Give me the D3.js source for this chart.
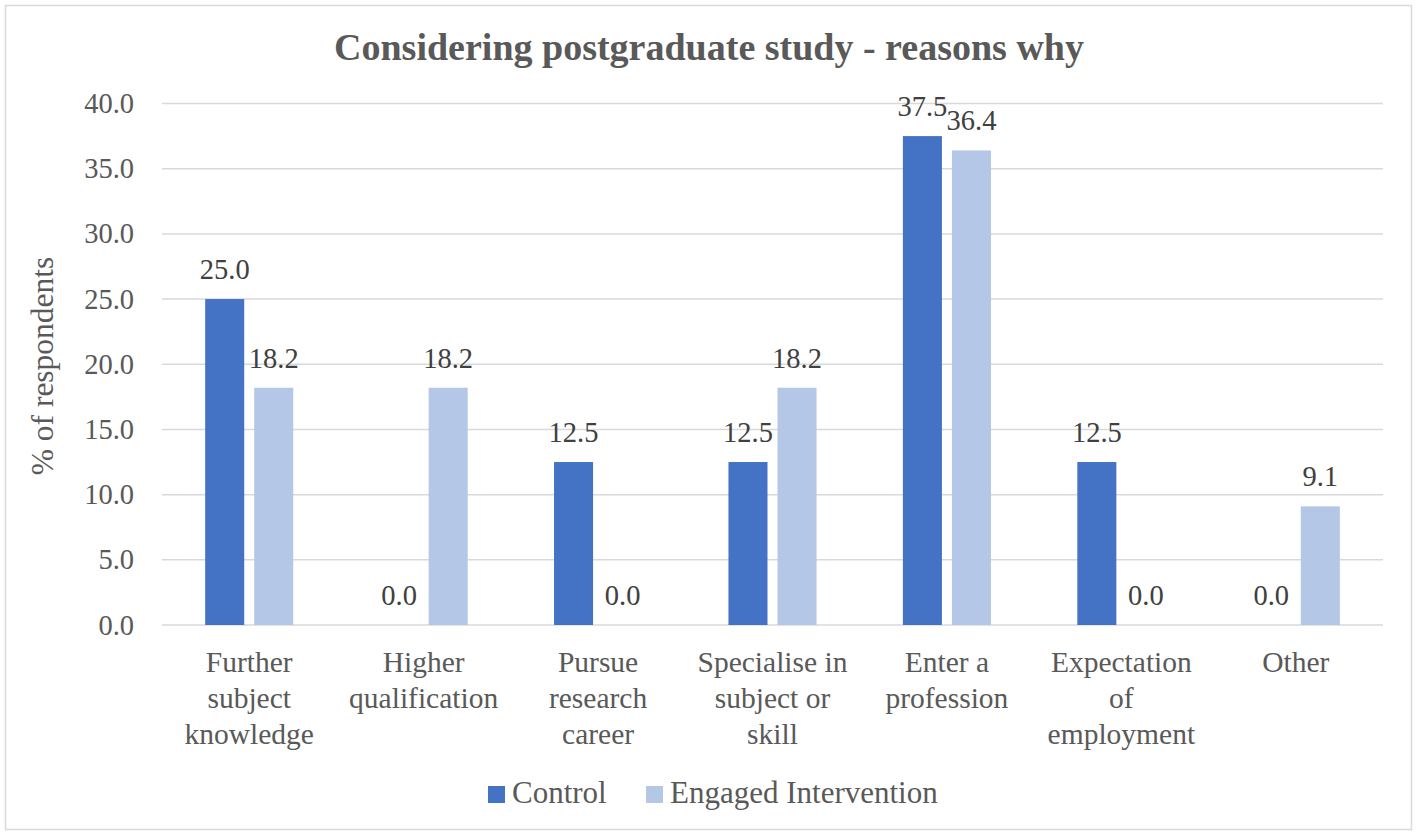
<!DOCTYPE html>
<html><head><meta charset="utf-8">
<script src="https://cdn.jsdelivr.net/npm/d3@7"></script>
<style>
body{margin:0;background:#fff}
svg{display:block}
text{font-family:"Liberation Serif","Times New Roman",serif}
</style>
</head><body>
<svg id="chart" width="1417" height="834"></svg>
<script>
const title = "Considering postgraduate study - reasons why";
const yAxisTitle = "% of respondents";
const categories = ["Further subject knowledge","Higher qualification","Pursue research career","Specialise in subject or skill","Enter a profession","Expectation of employment","Other"];
const categoryLines = [["Further","subject","knowledge"],["Higher","qualification"],["Pursue","research","career"],["Specialise in","subject or","skill"],["Enter a","profession"],["Expectation","of","employment"],["Other"]];
const seriesNames = ["Control","Engaged Intervention"];
const controlValues = [25.0,0.0,12.5,12.5,37.5,12.5,0.0];
const engagedValues = [18.2,18.2,0.0,18.2,36.4,0.0,9.1];
const yTickValues = [0,5,10,15,20,25,30,35,40];
const seriesColors = ["#4472C4","#B4C7E7"];

const svg = d3.select("#chart");
const W = 1417, H = 834;
const plot = {left:162, right:1383, top:103.5, bottom:625};

// chart border
svg.append("rect").attr("x",5.5).attr("y",5.5).attr("width",W-11).attr("height",H-10)
  .attr("fill","#fff").attr("stroke","#D9D9D9").attr("stroke-width",1.5);

const x0 = d3.scaleBand().domain(categories).range([plot.left,plot.right]).padding(0);
const groupW = x0.bandwidth()*0.505;
const x1 = d3.scaleBand().domain(seriesNames).range([-groupW/2,groupW/2]).paddingInner(0.204).paddingOuter(0);
const y = d3.scaleLinear().domain([0,40]).range([plot.bottom,plot.top]);

// gridlines
svg.append("g").selectAll("line").data(yTickValues).join("line")
  .attr("x1",plot.left).attr("x2",plot.right)
  .attr("y1",d=>y(d)).attr("y2",d=>y(d))
  .attr("stroke","#D9D9D9").attr("stroke-width",1.5);

// y tick labels
svg.append("g").selectAll("text").data(yTickValues).join("text")
  .attr("x",134).attr("y",d=>y(d)+9.5)
  .attr("text-anchor","end").attr("font-size",28.5).attr("fill","#595959")
  .text(d=>d3.format(".1f")(d));

// bars
const data = categories.map((c,i)=>({cat:c, vals:[
  {s:seriesNames[0], v:controlValues[i], color:seriesColors[0]},
  {s:seriesNames[1], v:engagedValues[i], color:seriesColors[1]}]}));

const groups = svg.append("g").selectAll("g").data(data).join("g")
  .attr("transform",d=>`translate(${x0(d.cat)+x0.bandwidth()/2},0)`);
groups.selectAll("rect").data(d=>d.vals).join("rect")
  .attr("x",d=>x1(d.s)).attr("width",x1.bandwidth())
  .attr("y",d=>y(d.v)).attr("height",d=>y(0)-y(d.v))
  .attr("fill",d=>d.color);
groups.selectAll("text").data(d=>d.vals).join("text")
  .attr("x",d=>x1(d.s)+x1.bandwidth()/2).attr("y",d=>y(d.v)-20)
  .attr("text-anchor","middle").attr("font-size",28.5).attr("fill","#404040")
  .text(d=>d3.format(".1f")(d.v));

// category labels
const catG = svg.append("g").selectAll("text").data(categories).join("text")
  .attr("text-anchor","middle").attr("font-size",29.5).attr("fill","#595959");
catG.each(function(c,i){
  const t = d3.select(this);
  categoryLines[i].forEach((ln,j)=>{
    t.append("tspan").attr("x",x0(c)+x0.bandwidth()/2).attr("y",672+36*j).text(ln);
  });
});

// y axis title
svg.append("text").attr("transform","translate(53,366) rotate(-90)")
  .attr("text-anchor","middle").attr("font-size",31.5).attr("fill","#595959").text(yAxisTitle);

// title
svg.append("text").attr("x",709).attr("y",60).attr("text-anchor","middle")
  .attr("font-size",38).attr("font-weight","bold").attr("fill","#595959").text(title);

// legend
const legendX = [488,646];
const leg = svg.append("g").selectAll("g").data(seriesNames).join("g")
  .attr("transform",(d,i)=>`translate(${legendX[i]},786)`);
leg.append("rect").attr("width",17).attr("height",17).attr("fill",(d,i)=>seriesColors[i]);
leg.append("text").attr("x",24).attr("y",17).attr("font-size",31).attr("fill","#595959").text(d=>d);
</script>
</body></html>
